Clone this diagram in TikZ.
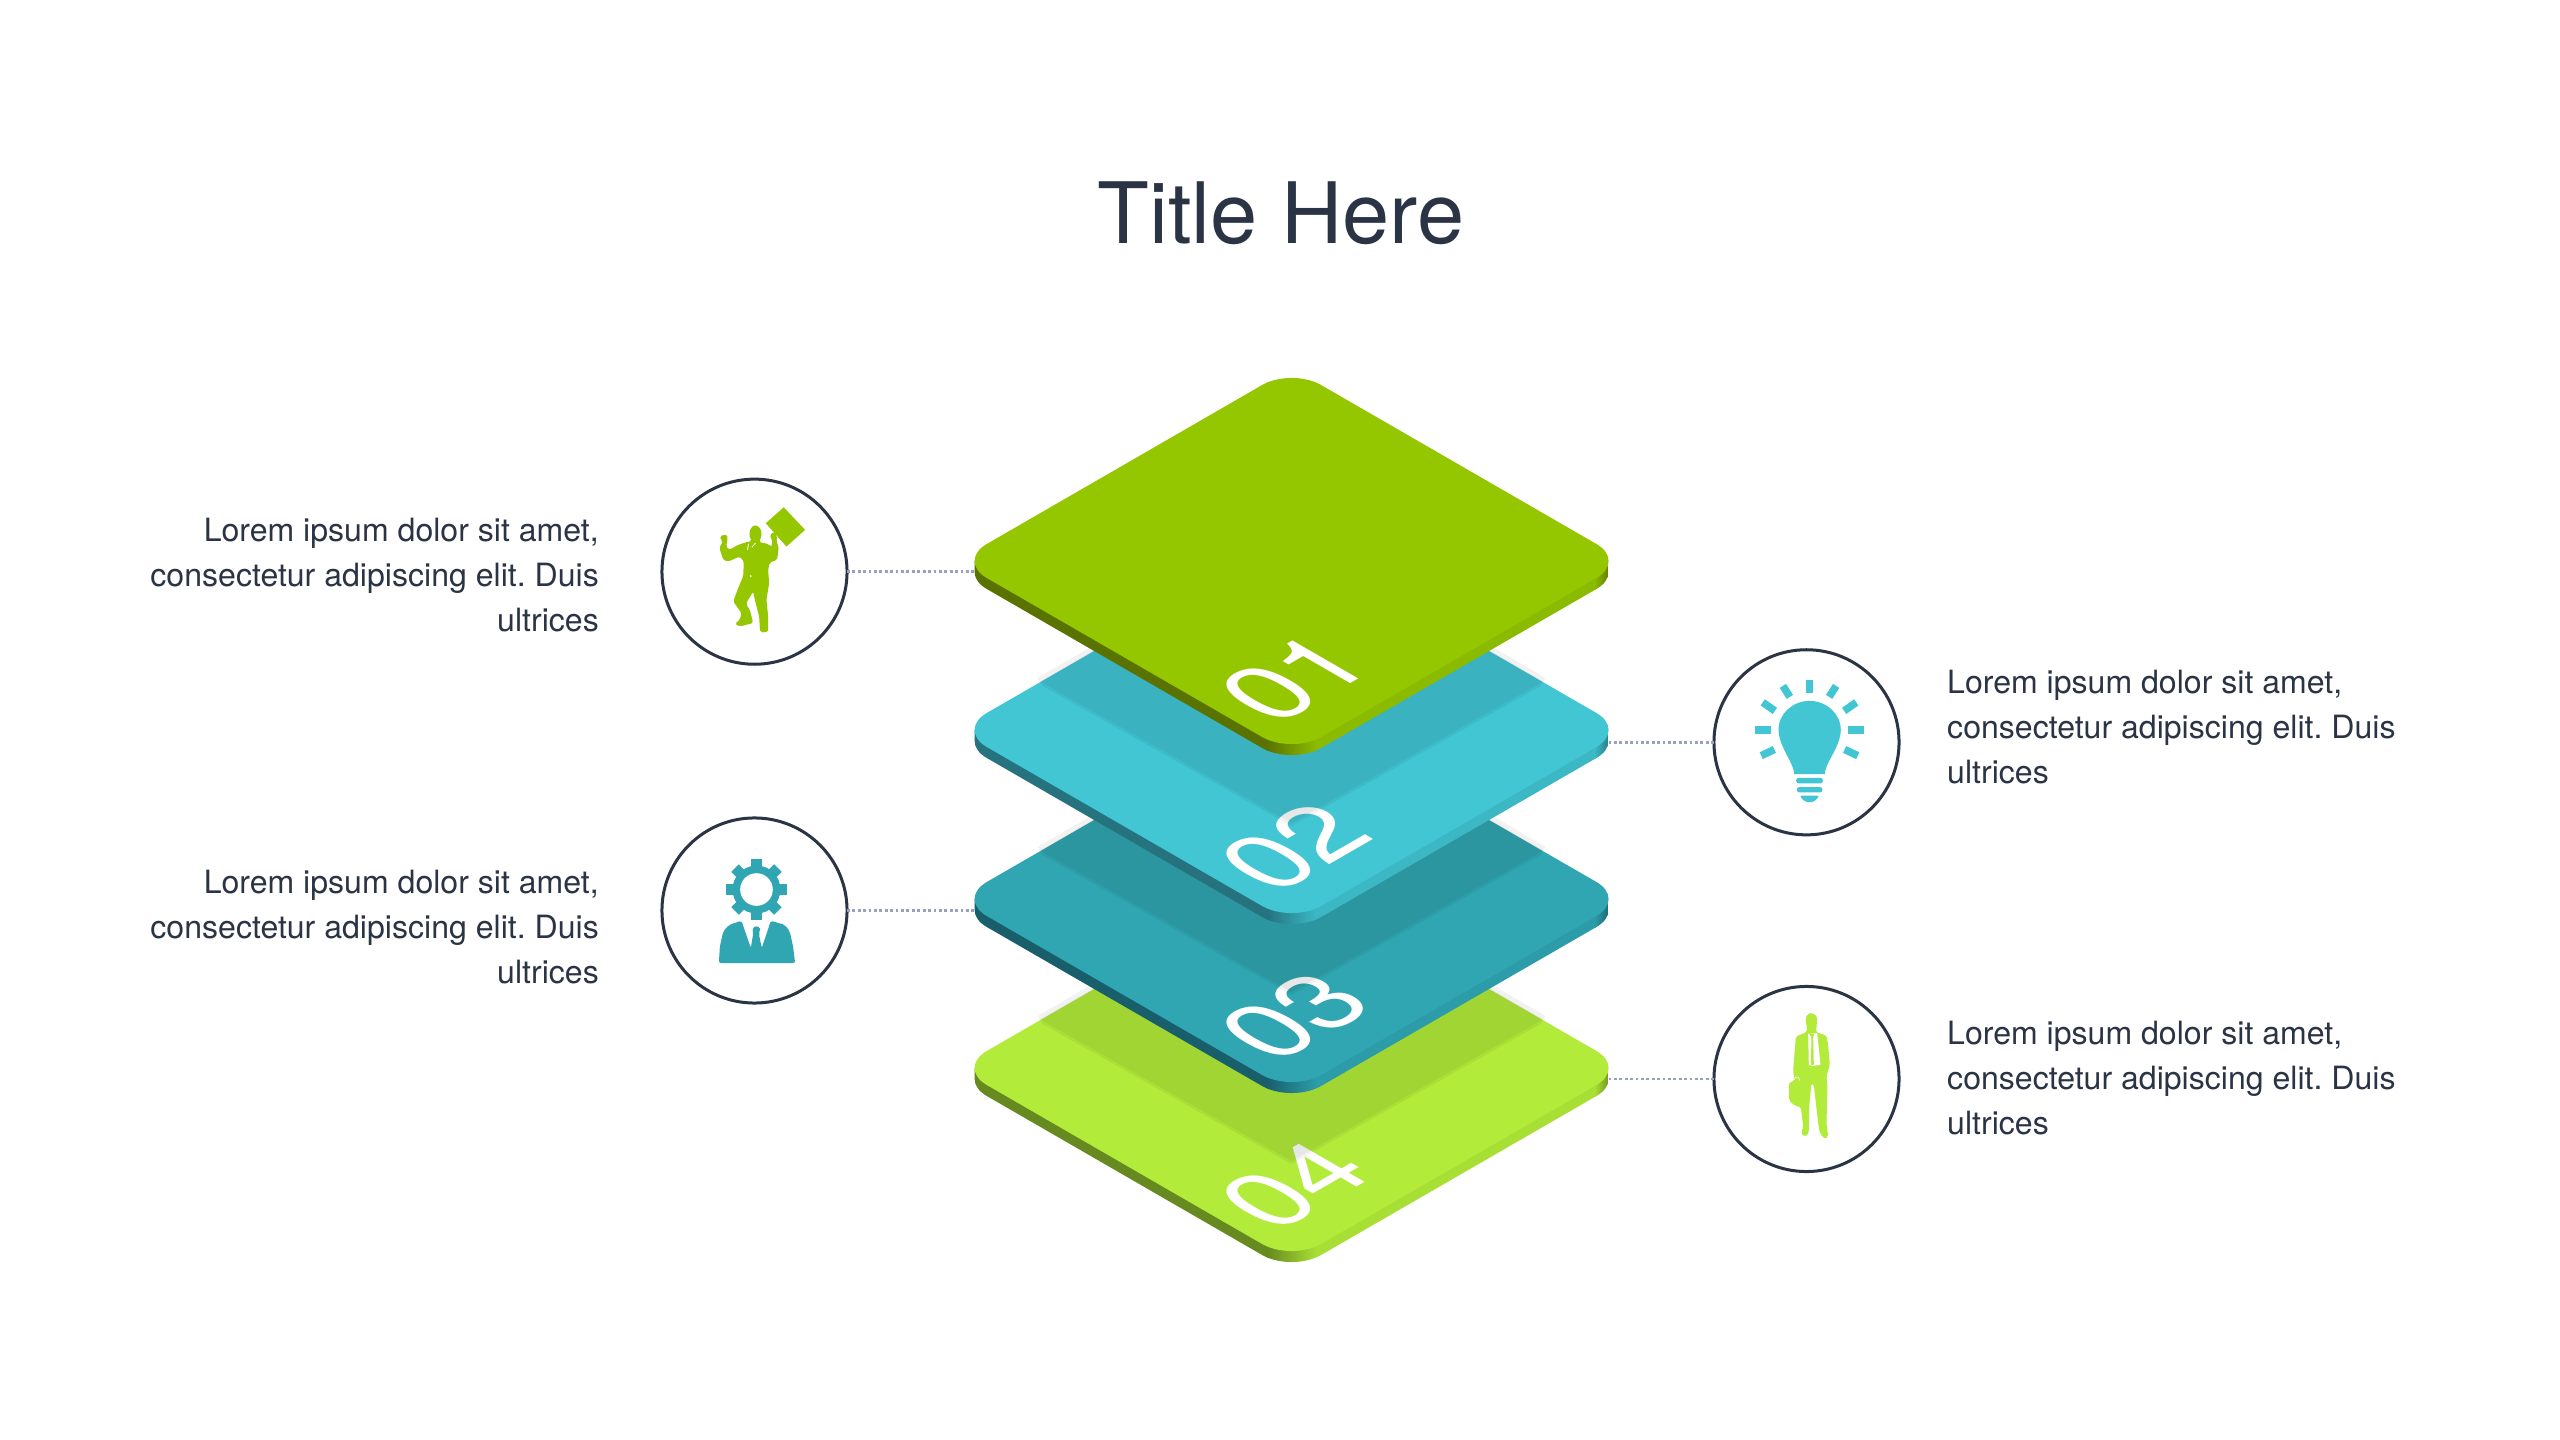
\documentclass[tikz,border=0pt]{standalone}
\usepackage{fontspec}
\setmainfont{TeX Gyre Heros}
\frenchspacing
\definecolor{ink}{HTML}{2B3445}
\definecolor{dotc}{HTML}{97A0BC}
\definecolor{topA}{HTML}{94C700}\definecolor{leftA}{HTML}{5A7300}\definecolor{rightA}{HTML}{8BBB00}
\definecolor{topB}{HTML}{42C6D3}\definecolor{leftB}{HTML}{26727F}\definecolor{rightB}{HTML}{3CB8C5}
\definecolor{topC}{HTML}{30A6B2}\definecolor{leftC}{HTML}{185F6B}\definecolor{rightC}{HTML}{2C9CA8}
\definecolor{topD}{HTML}{B3EB3A}\definecolor{leftD}{HTML}{668A1F}\definecolor{rightD}{HTML}{A8DF34}
\tikzset{
  ring/.style={circle,draw=ink,line width=.03cm,minimum size=1.85cm,inner sep=0pt,outer sep=0pt},
  conn/.style={draw=dotc,line width=.028cm,dash pattern=on .028cm off .026cm},
  bodytext/.style={text=ink,inner sep=0pt,font=\fontsize{9.12}{12.76}\selectfont},
  numtext/.style={text=white,inner sep=0pt,font=\fontsize{30.5}{32}\selectfont},
  zoomed/.style={x=.003333cm,y=-.003333cm},
  ray/.style={line width=.075cm}
}
\newcommand{\platetop}{(-317,0) .. controls (-317,-6.15) and (-312.94,-12.3) .. (-304.81,-17)
  -- (-29.44,-176) .. controls (-21.31,-180.7) and (-10.66,-183.04) .. (0,-183.04)
  .. controls (10.66,-183.04) and (21.31,-180.7) .. (29.44,-176)
  -- (304.81,-17) .. controls (312.94,-12.3) and (317,-6.15) .. (317,0)
  .. controls (317,6.15) and (312.94,12.3) .. (304.81,17)
  -- (29.44,176) .. controls (21.31,180.7) and (10.66,183.04) .. (0,183.04)
  .. controls (-10.66,183.04) and (-21.31,180.7) .. (-29.44,176)
  -- (-304.81,17) .. controls (-312.94,12.3) and (-317,6.15) .. (-317,0) -- cycle}
\newcommand{\platehull}{(-317,0) -- (-317,11) .. controls (-317,17.15) and (-312.94,23.3) .. (-304.81,28)
  -- (-29.44,187) .. controls (-21.31,191.7) and (-10.66,194.04) .. (0,194.04)
  .. controls (10.66,194.04) and (21.31,191.7) .. (29.44,187)
  -- (304.81,28) .. controls (312.94,23.3) and (317,17.15) .. (317,11) -- (317,0) -- cycle}
% #1 centre y, #2 top, #3 left side, #4 right side, #5 number
\newcommand{\plate}[5]{%
  \begin{scope}[shift={(1291.6,#1)}]
    \begin{scope}
      \clip \platehull;
      \fill[#3] (-320,-5) rectangle (-24,200);
      \shade[left color=#3,right color=#4,draw=none] (-24.5,-5) rectangle (24.5,200);
      \fill[#4] (24,-5) rectangle (304,200);
      \shade[left color=#4,right color=#3,draw=none] (303,-5) rectangle (320,200);
    \end{scope}
    \fill[#2] \platetop;
    \node[numtext,transform shape,cm={.866,.5,-.866,.5,(3,117.5)}] (n#5) at (0,0) {#5};
  \end{scope}}
% shadow that the plate above throws on the plate centred at #1
\newcommand{\castshadow}[1]{%
  \begin{scope}[shift={(1291.6,#1)}]
    \fill[black,opacity=.05] (-254,-52) -- (0,-200) -- (254,-52) -- (249,-44) -- (0,96) -- (-249,-44) -- cycle;
    \fill[black,opacity=.045] (-251,-49) -- (0,-194) -- (251,-49) -- (247,-46) -- (0,93) -- (-247,-46) -- cycle;
  \end{scope}}
\begin{document}
\begin{tikzpicture}[x=.01cm,y=-.01cm]
\useasboundingbox (0,0) rectangle (2560,1440);
\fill[white] (0,0) rectangle (2560,1440);

\node[text=ink,inner sep=0pt,font=\fontsize{24.1}{28}\selectfont] (title) at (1281,213.5) {Title Here};

\node[ring] (c1) at (754.5,571.7) {};
\node[ring] (c2) at (1806.5,742.3) {};
\node[ring] (c3) at (754.5,910.5) {};
\node[ring] (c4) at (1806.5,1079) {};

\coordinate (p1) at (980,571.7);
\coordinate (p2) at (1603,742.3);
\coordinate (p3) at (980,910.5);
\coordinate (p4) at (1603,1079);
\draw[conn] (c1.east) -- (p1);
\draw[conn] (c2.west) -- (p2);
\draw[conn] (c3.east) -- (p3);
\draw[conn] (c4.west) -- (p4);

\plate{1068}{topD}{leftD}{rightD}{04}
\castshadow{1068}
\plate{899}{topC}{leftC}{rightC}{03}
\castshadow{899}
\plate{730}{topB}{leftB}{rightB}{02}
\castshadow{730}
\plate{561}{topA}{leftA}{rightA}{01}

\node[bodytext,align=right,anchor=east] (t1) at (599.5,575) {Lorem ipsum dolor sit amet,\\consectetur adipiscing elit. Duis\\ultrices};
\node[bodytext,align=right,anchor=east] (t3) at (599.5,927) {Lorem ipsum dolor sit amet,\\consectetur adipiscing elit. Duis\\ultrices};
\node[bodytext,align=left,anchor=west] (t2) at (1946.5,727) {Lorem ipsum dolor sit amet,\\consectetur adipiscing elit. Duis\\ultrices};
\node[bodytext,align=left,anchor=west] (t4) at (1946.5,1078) {Lorem ipsum dolor sit amet,\\consectetur adipiscing elit. Duis\\ultrices};

% icon 1: man holding a case
\begin{scope}[shift={(640,460)},zoomed]
  \fill[topA] (432,142) -- (496,210) -- (440,260) -- (378,190) -- cycle;
  \fill[topA,rounded corners=.5pt] (240,228) -- (262,224) -- (263,245) -- (258,258) -- (268,270)
    -- (295,255) -- (325,245) -- (335,245) -- (328,225) -- (332,205) -- (346,194) -- (362,205)
    -- (366,225) -- (358,247) -- (385,252) -- (395,262) -- (398,245) -- (390,225) -- (405,215)
    -- (412,230) -- (410,245) -- (417,262) -- (412,300) -- (390,308) -- (385,330) -- (388,370)
    -- (380,420) -- (385,470) -- (385,517) -- (362,518) -- (360,505) -- (358,470) -- (345,420)
    -- (340,395) -- (318,432) -- (330,450) -- (340,490) -- (300,500) -- (285,493) -- (300,480)
    -- (305,460) -- (280,425) -- (295,385) -- (310,350) -- (312,305) -- (300,290) -- (265,305)
    -- (250,300) -- (238,262) -- (248,250) -- cycle;
  \draw[white,line width=.008cm] (326,252) -- (323,270) (347,250) -- (336,262);
  \fill[white] (333,349) circle (3);
\end{scope}

% icon 2: light bulb
\begin{scope}[shift={(1700,640)},zoomed]
  \draw[topB,ray] (329,120) -- (329,160);
  \draw[topB,ray] (166,270) -- (212,270) (446,270) -- (492,270);
  \draw[topB,ray] (249,138) -- (270,171) (409,138) -- (388,171);
  \draw[topB,ray] (188.5,187.5) -- (225,213) (469.5,187.5) -- (433,213);
  \draw[topB,ray] (184,347.5) -- (223.5,329) (474,347.5) -- (434.5,329);
  \fill[topB] (283,403) .. controls (283,370) and (236,320) .. (236,270)
    .. controls (236,220) and (280,183) .. (329,183)
    .. controls (378,183) and (423,220) .. (423,270)
    .. controls (423,320) and (375,370) .. (375,403) -- cycle;
  \fill[topB,rounded corners=.7pt] (289,414) rectangle (369,431);
  \fill[topB,rounded corners=.7pt] (291,442) rectangle (368,458);
  \fill[topB,rounded corners=.6pt] (299,468) -- (359,468) -- (342,487) -- (316,487) -- cycle;
\end{scope}

% icon 3: person with a gear for a head
\begin{scope}[shift={(640,800)},zoomed]
  \foreach \a in {0,45,...,315}{
    \begin{scope}[shift={(350,269)},rotate=\a]
      \fill[topC] (-16,55) rectangle (16,91);
    \end{scope}}
  \fill[topC] (350,269) circle (72);
  \fill[white] (350,269) circle (49);
  \fill[topC,rounded corners=.6pt] (237,490) -- (240,440) -- (250,395) -- (268,375) -- (305,363)
    -- (333,445) -- (340,402) -- (338,385) -- (350,378) -- (362,385) -- (357,402) -- (366,445)
    -- (393,363) -- (435,375) -- (450,395) -- (460,440) -- (466,490) -- cycle;
\end{scope}

% icon 4: standing man with a briefcase
\begin{scope}[shift={(1700,970)},zoomed]
  \fill[topD,rounded corners=.5pt] (335,128) -- (352,140) -- (350,175) -- (348,187) -- (380,197)
    -- (385,225) -- (390,285) -- (380,320) -- (383,350) -- (380,460) -- (385,500) -- (375,508)
    -- (360,490) -- (355,460) -- (342,345) -- (335,340) -- (328,410) -- (328,470) -- (325,495)
    -- (310,500) -- (305,490) -- (310,470) -- (303,412) -- (285,408) -- (268,392) -- (268,337)
    -- (283,335) -- (280,300) -- (288,200) -- (322,186) -- (320,165) -- (317,150) -- (322,133) -- cycle;
  \fill[white] (325,192) -- (352,190) -- (362,285) -- (338,288) -- (327,286) -- cycle;
  \fill[topD] (329,193) -- (342,193) -- (340,205) -- (342,284) -- (333,286) -- (335,205) -- cycle;
  \draw[white,line width=.006cm] (283,330) .. controls (285,318) and (298,318) .. (300,332);
\end{scope}
\end{tikzpicture}
\end{document}
